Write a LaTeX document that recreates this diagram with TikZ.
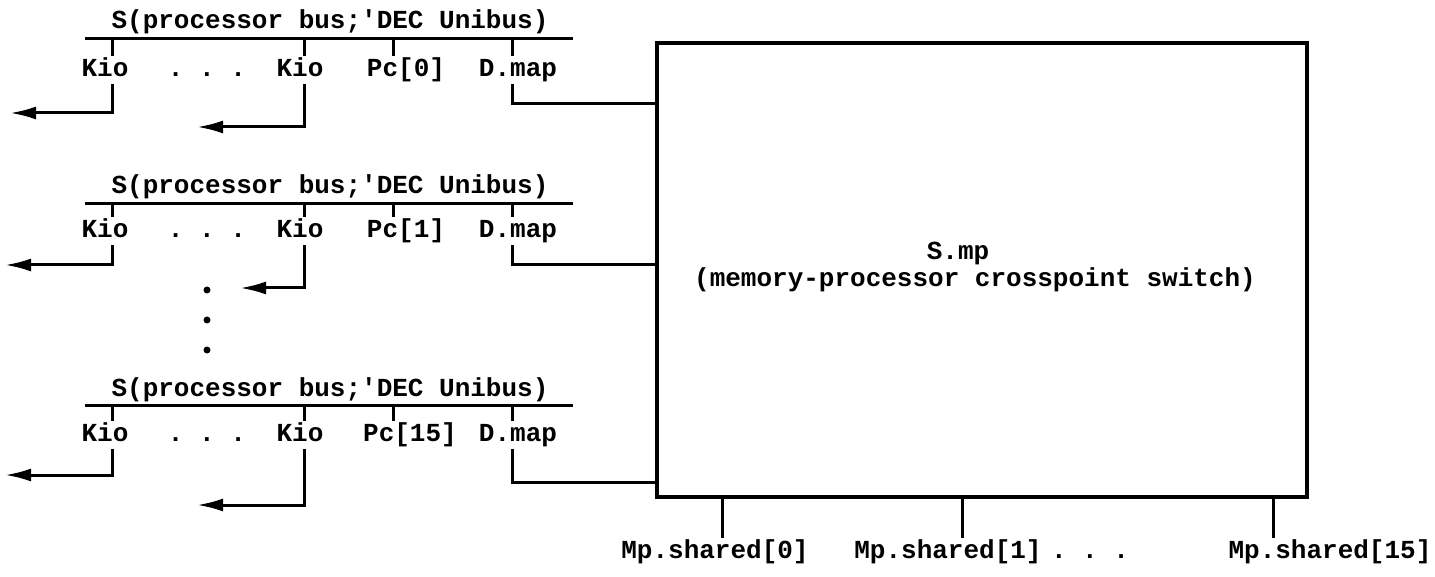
\documentclass[tikz,border=0pt]{standalone}
\usepackage{fontspec}
\setmonofont{Liberation Mono}
\usetikzlibrary{arrows.meta, positioning, calc}

\tikzset{
  lbl/.style={font=\ttfamily\bfseries\fontsize{26}{26}\selectfont, inner sep=1pt,
    text height=19pt, text depth=6pt},
  wire/.style={line width=3pt},
  outarrow/.style={wire, -{Latex[length=26pt,width=13pt]}},
}

\begin{document}
\begin{tikzpicture}[x=1pt, y=-1pt]
    \useasboundingbox (0,0) rectangle (1435,577);
    % tick columns
    \coordinate (xa) at (112,0);
    \coordinate (xb) at (304,0);
    \coordinate (xp) at (393,0);
    \coordinate (xd) at (512,0);
    % crosspoint switch
    \node[draw, line width=4pt, minimum width=650pt, minimum height=454pt] (smp) at (982,270) {};
    \node[lbl] (smpname) at (958,253) {S.mp};
    \node[lbl] (smptext) at (975,280) {(memory-processor crosspoint switch)};
    % bus 0
    \node[lbl] (bus0) at (330,22) {S(processor bus;'DEC Unibus)};
    \coordinate (bus0w) at (85,39);
    \coordinate (bus0e) at (573,39);
    \node[lbl] (kioa0) at (105,70) {Kio};
    \node[lbl] (dots0) at (207,70) {.\ .\ .};
    \node[lbl] (kiob0) at (300,70) {Kio};
    \node[lbl] (pc0) at (406,70) {Pc[0]};
    \node[lbl] (dmap0) at (518,70) {D.map};
    \coordinate (ea0) at (10,113);
    \coordinate (eb0) at (197,127);
    \coordinate (ed0) at (657,104);
    \draw[wire] (bus0w) -- (bus0e);
    \draw[wire] (xa |- bus0w) -- (xa |- kioa0.north);
    \draw[wire] (xb |- bus0w) -- (xb |- kiob0.north);
    \draw[wire] (xp |- bus0w) -- (xp |- pc0.north);
    \draw[wire] (xd |- bus0w) -- (xd |- dmap0.north);
    \draw[outarrow] (xa |- kioa0.south) |- (ea0);
    \draw[outarrow] (xb |- kiob0.south) |- (eb0);
    \draw[wire] (xd |- dmap0.south) |- (ed0);
    % bus 1
    \node[lbl] (bus1) at (330,187) {S(processor bus;'DEC Unibus)};
    \coordinate (bus1w) at (85,204);
    \coordinate (bus1e) at (573,204);
    \node[lbl] (kioa1) at (105,231) {Kio};
    \node[lbl] (dots1) at (207,231) {.\ .\ .};
    \node[lbl] (kiob1) at (300,231) {Kio};
    \node[lbl] (pc1) at (406,231) {Pc[1]};
    \node[lbl] (dmap1) at (518,231) {D.map};
    \coordinate (ea1) at (5,265);
    \coordinate (eb1) at (240,288);
    \coordinate (ed1) at (657,265);
    \draw[wire] (bus1w) -- (bus1e);
    \draw[wire] (xa |- bus1w) -- (xa |- kioa1.north);
    \draw[wire] (xb |- bus1w) -- (xb |- kiob1.north);
    \draw[wire] (xp |- bus1w) -- (xp |- pc1.north);
    \draw[wire] (xd |- bus1w) -- (xd |- dmap1.north);
    \draw[outarrow] (xa |- kioa1.south) |- (ea1);
    \draw[outarrow] (xb |- kiob1.south) |- (eb1);
    \draw[wire] (xd |- dmap1.south) |- (ed1);
    % more buses
    \fill (207,290) circle (3.5pt);
    \fill (207,320) circle (3.5pt);
    \fill (207,350) circle (3.5pt);
    % bus 15
    \node[lbl] (bus15) at (330,390) {S(processor bus;'DEC Unibus)};
    \coordinate (bus15w) at (85,405);
    \coordinate (bus15e) at (573,405);
    \node[lbl] (kioa15) at (105,435) {Kio};
    \node[lbl] (dots15) at (207,435) {.\ .\ .};
    \node[lbl] (kiob15) at (300,435) {Kio};
    \node[lbl] (pc15) at (410,435) {Pc[15]};
    \node[lbl] (dmap15) at (518,435) {D.map};
    \coordinate (ea15) at (5,475);
    \coordinate (eb15) at (197,505);
    \coordinate (ed15) at (657,482);
    \draw[wire] (bus15w) -- (bus15e);
    \draw[wire] (xa |- bus15w) -- (xa |- kioa15.north);
    \draw[wire] (xb |- bus15w) -- (xb |- kiob15.north);
    \draw[wire] (xp |- bus15w) -- (xp |- pc15.north);
    \draw[wire] (xd |- bus15w) -- (xd |- dmap15.north);
    \draw[outarrow] (xa |- kioa15.south) |- (ea15);
    \draw[outarrow] (xb |- kiob15.south) |- (eb15);
    \draw[wire] (xd |- dmap15.south) |- (ed15);
    % shared memories
    \node[lbl] (mp0) at (715,552) {Mp.shared[0]};
    \node[lbl] (mp1) at (948,552) {Mp.shared[1]};
    \node[lbl] (mpdots) at (1090,552) {.\ .\ .};
    \node[lbl] (mp15) at (1330,552) {Mp.shared[15]};
    \coordinate (xm0) at (722,0);
    \coordinate (xm1) at (962,0);
    \coordinate (xm15) at (1273,0);
    \draw[wire] (xm0 |- smp.south) -- (xm0 |- mp0.north);
    \draw[wire] (xm1 |- smp.south) -- (xm1 |- mp1.north);
    \draw[wire] (xm15 |- smp.south) -- (xm15 |- mp15.north);
\end{tikzpicture}
\end{document}
